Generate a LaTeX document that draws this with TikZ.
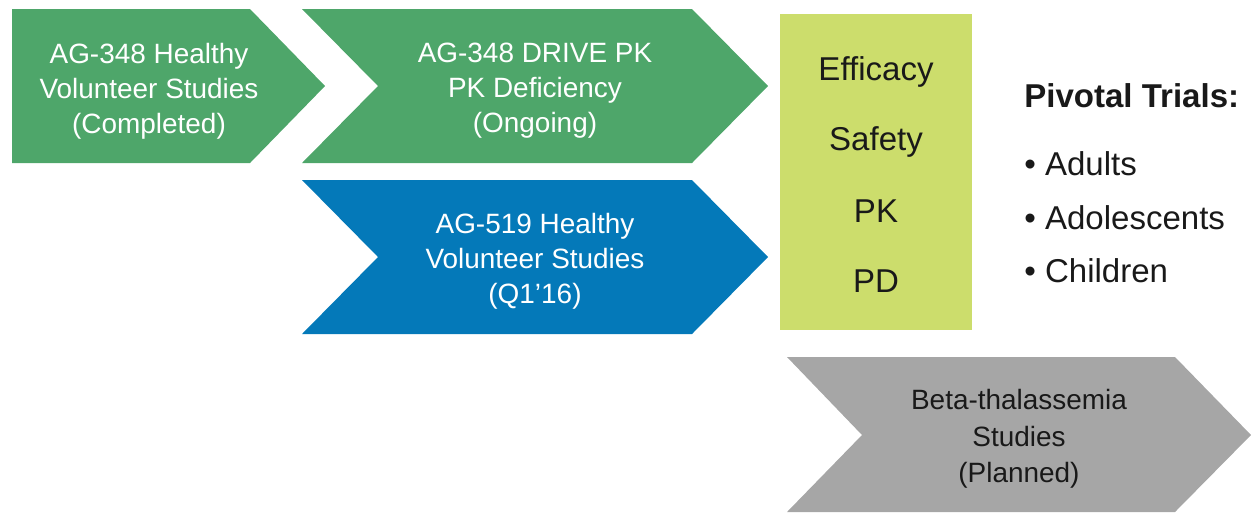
\documentclass[tikz,border=0pt]{standalone}
\usepackage{fontspec}
\setmainfont{Liberation Sans}
\usetikzlibrary{positioning}

\definecolor{stepgreen}{HTML}{4EA66A}
\definecolor{stepblue}{HTML}{0479B9}
\definecolor{steplime}{HTML}{CCDD6C}
\definecolor{stepgray}{HTML}{A6A6A6}

\begin{document}
\begin{tikzpicture}
[
x=0.02cm, y=-0.02cm,
inner sep=0pt,
arrowtxt/.style={align=center, text=white, font=\fontsize{15.9}{19.9}\selectfont},
darktxt/.style={align=center, text=black!90, font=\fontsize{15.9}{20.8}\selectfont},
boxtxt/.style={text=black!90, font=\fontsize{18.8}{22}\selectfont},
listtxt/.style={anchor=west, text=black!90, font=\fontsize{18.8}{22}\selectfont},
]
\useasboundingbox (0,0) rectangle (1251,512);

% chevrons
\fill [stepgreen] (12,9) -- (250,9) -- (325,86) -- (250,163) -- (12,163) -- cycle;
\fill [stepgreen] (302,9) -- (692,9) -- (768,86) -- (692,163) -- (302,163) -- (378,86) -- cycle;
\fill [stepblue] (302,180) -- (692,180) -- (768,257) -- (692,334) -- (302,334) -- (378,257) -- cycle;
\fill [stepgray] (787,357) -- (1175,357) -- (1251,435) -- (1175,512) -- (787,512) -- (862,435) -- cycle;

% endpoints box
\fill [steplime] (780,14) rectangle (972,330);

\node [arrowtxt] (hv348) at (149,91) {AG-348 Healthy\\Volunteer Studies\\(Completed)};
\node [arrowtxt] (drive) at (535,91) {AG-348 DRIVE PK\\PK Deficiency\\(Ongoing)};
\node [arrowtxt] (hv519) at (535,261) {AG-519 Healthy\\Volunteer Studies\\(Q1'16)};
\node [darktxt] (beta) at (1019,439) {Beta-thalassemia\\Studies\\(Planned)};

\node [boxtxt] (efficacy) at (876,72) {Efficacy};
\node [boxtxt] (safety) at (876,142) {Safety};
\node [boxtxt] (pk) at (876,211) {PK};
\node [boxtxt] (pd) at (876,281) {PD};

\node [listtxt, font=\fontsize{18.8}{22}\selectfont\bfseries] (pivotal) at (1024,96) {Pivotal Trials:};
\node [listtxt] (adults) at (1024,164) {• Adults};
\node [listtxt] (adolescents) at (1024,218) {• Adolescents};
\node [listtxt] (children) at (1024,271) {• Children};
\end{tikzpicture}
\end{document}
